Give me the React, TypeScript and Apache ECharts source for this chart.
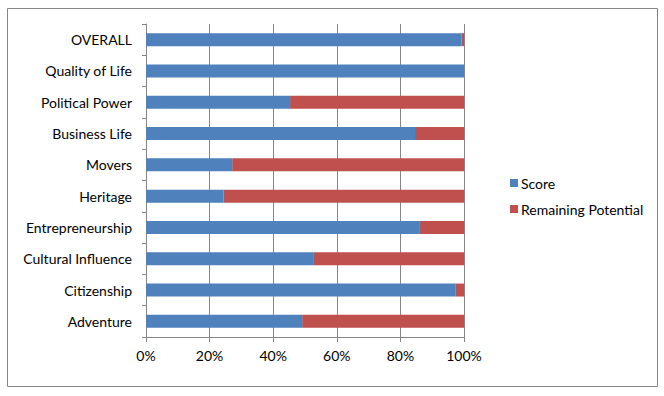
import React, { useEffect, useRef } from "react";
import * as echarts from "echarts";

const categories = [
  "OVERALL",
  "Quality of Life",
  "Political Power",
  "Business Life",
  "Movers",
  "Heritage",
  "Entrepreneurship",
  "Cultural Influence",
  "Citizenship",
  "Adventure",
];
const score = [99.2, 100, 45.3, 84.6, 27.1, 24.4, 85.9, 52.8, 97.4, 49.1];
const remaining = [0.8, 0, 54.7, 15.4, 72.9, 75.6, 14.1, 47.2, 2.6, 50.9];
const xTicks = [0, 20, 40, 60, 80, 100];

const FONT = "Lato, 'Open Sans', sans-serif";

export default function App() {
  const ref = useRef<HTMLDivElement>(null);
  useEffect(() => {
    if (!ref.current) return;
    const chart = echarts.init(ref.current, undefined, { renderer: "svg" });
    chart.setOption({
      animation: false,
      backgroundColor: "#ffffff",
      textStyle: { fontFamily: FONT },
      graphic: [
        {
          type: "rect",
          shape: { x: 7.5, y: 8.5, width: 650, height: 378 },
          style: { fill: "none", stroke: "#868686", lineWidth: 1 },
          silent: true,
        },
      ],
      legend: {
        orient: "vertical",
        left: 505,
        top: 171,
        itemWidth: 8,
        itemHeight: 8,
        itemGap: 12,
        icon: "rect",
        textStyle: { fontFamily: FONT, fontSize: 14, color: "#000", padding: [0, 0, 0, -2] },
        data: ["Score", "Remaining Potential"],
      },
      grid: { left: 146, right: 200, top: 24, bottom: 59, containLabel: false },
      xAxis: {
        type: "value",
        min: xTicks[0],
        max: xTicks[xTicks.length - 1],
        interval: 20,
        axisLine: { show: true, lineStyle: { color: "#868686" } },
        axisTick: { show: true, length: 5, lineStyle: { color: "#868686" } },
        splitLine: { show: true, lineStyle: { color: "#868686" } },
        axisLabel: {
          formatter: (v: number) => v + "%",
          fontFamily: FONT,
          fontSize: 14,
          color: "#000",
          margin: 11,
        },
      },
      yAxis: {
        type: "category",
        inverse: true,
        data: categories,
        axisLine: { show: true, lineStyle: { color: "#868686" } },
        axisTick: { show: true, length: 4, lineStyle: { color: "#868686" } },
        axisLabel: { fontFamily: FONT, fontSize: 14, color: "#000", margin: 14 },
      },
      series: [
        {
          name: "Score",
          type: "bar",
          stack: "total",
          barWidth: 13,
          itemStyle: { color: "#4F81BD" },
          data: score,
        },
        {
          name: "Remaining Potential",
          type: "bar",
          stack: "total",
          barWidth: 13,
          itemStyle: { color: "#C0504D" },
          data: remaining,
        },
      ],
    });
    return () => chart.dispose();
  }, []);
  return (
    <div
      ref={ref}
      style={{ position: "fixed", left: 0, top: 0, width: 664, height: 396 }}
    />
  );
}
